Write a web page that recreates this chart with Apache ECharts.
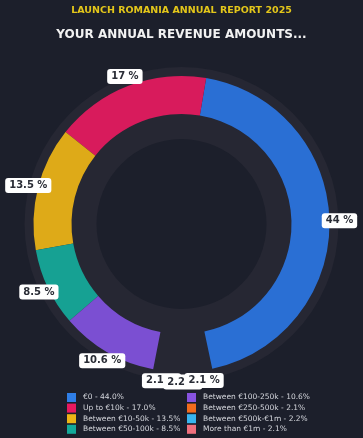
<!DOCTYPE html>
<html><head><meta charset="utf-8">
<script src="https://cdn.jsdelivr.net/npm/echarts@6/dist/echarts.min.js"></script>
<style>html,body{margin:0;padding:0;background:#1c1f2b;}#c{width:363px;height:438px;}</style>
</head><body><div id="c"></div>
<script>
const categories = ['€0','Up to €10k','Between €10-50k','Between €50-100k','Between €100-250k','Between €250-500k','Between €500k-€1m','More than €1m'];
const values = [44.0, 17.0, 13.5, 8.5, 10.6, 2.1, 2.2, 2.1];
const colors = ['#2f7ee6','#e8195f','#eeb416','#14a99a','#8753e0','#f26b1d','#38b6f0','#f0707e'];
const sliceColors = ['#2a6fd4','#d81b5c','#deaa18','#16a193','#7b4fd2','#f26b1d','#38b6f0','#f0707e'];
const hiddenSlices = [false,false,false,false,false,true,true,true];

const chart = echarts.init(document.getElementById('c'), null, {renderer:'canvas'});
const font = 'DejaVu Sans';
const mainData = categories.map((n,i)=>({name:n,value:values[i],itemStyle:{color:sliceColors[i],opacity:hiddenSlices[i]?0:1}}));
const labelData = categories.map((n,i)=>({name:n,value:values[i]}));
const legendItems = categories.map((n,i)=>({name:n,itemStyle:{color:colors[i],opacity:1}}));
const fmtLegend = n => { const i = categories.indexOf(n); return n + ' - ' + values[i].toFixed(1) + '%'; };
const legendCommon = {orient:'vertical',itemWidth:9,itemHeight:9,itemGap:1.6,icon:'rect',padding:0,height:45,width:170,
  textStyle:{color:'#d4d6dc',fontSize:7.5,fontFamily:font,padding:[0,0,0,2]},formatter:fmtLegend,selectedMode:false};
chart.setOption({
  backgroundColor:'#1c1f2b',
  animation:false,
  title:[
    {text:'LAUNCH ROMANIA ANNUAL REPORT 2025',left:'center',top:1,textStyle:{color:'#e3c61a',fontSize:9.5,fontWeight:'bold',fontFamily:font}},
    {text:'YOUR ANNUAL REVENUE AMOUNTS...',left:'center',top:24,textStyle:{color:'#f2f2f2',fontSize:12,fontWeight:'bold',fontFamily:font}}
  ],
  legend:[
    Object.assign({left:67,top:393,data:legendItems.slice(0,4)},legendCommon),
    Object.assign({left:187,top:393,data:legendItems.slice(4)},legendCommon)
  ],
  series:[
    {type:'pie',silent:true,center:['50%',224],radius:[85,157],label:{show:false},labelLine:{show:false},
     data:[{value:1,name:'bg',itemStyle:{color:'#262733'}}],z:1},
    {type:'pie',silent:true,center:['50%',224],radius:[110,148],startAngle:-78,clockwise:false,
     label:{show:false},labelLine:{show:false},data:mainData,z:2},
    {type:'pie',silent:true,center:['50%',224],radius:[150,160],startAngle:-78,clockwise:false,
     itemStyle:{color:'rgba(0,0,0,0)'},labelLine:{show:false},z:3,
     label:{show:true,position:'inside',formatter:p=>p.value+' %',backgroundColor:'#ffffff',borderRadius:3,
       padding:[3,4,2,4],color:'#2a2d36',fontSize:10,fontWeight:'bold',fontFamily:font},
     labelLayout:{hideOverlap:false},
     data:labelData}
  ]
});
</script></body></html>
